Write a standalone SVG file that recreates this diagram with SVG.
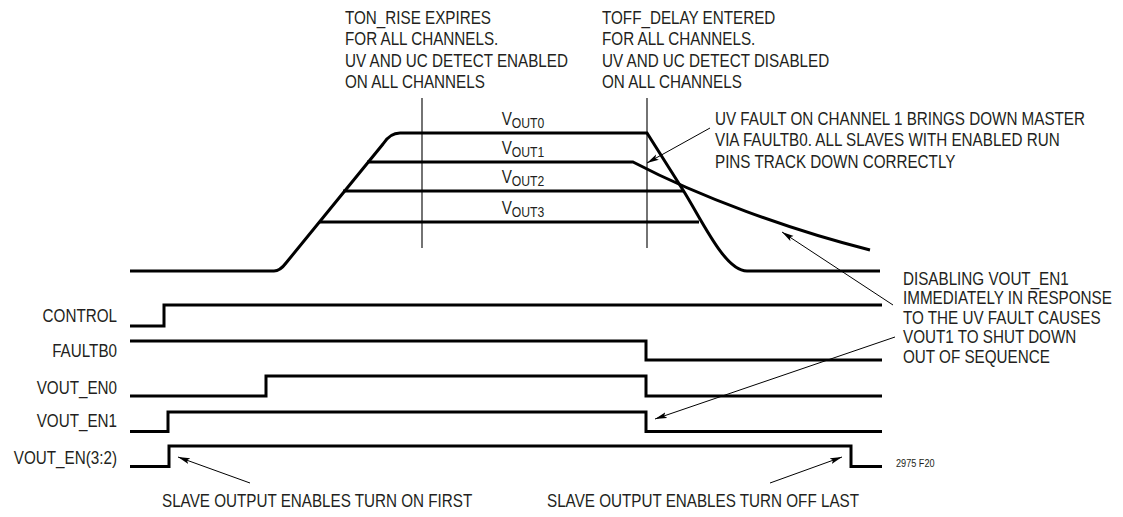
<svg xmlns="http://www.w3.org/2000/svg" width="1123" height="517" viewBox="0 0 1123 517">
<style>
  .w { fill: none; stroke: #000; stroke-width: 3; stroke-linejoin: miter; stroke-linecap: butt; }
  .thin { fill: none; stroke: #000; stroke-width: 1.1; }
  .arr { fill: none; stroke: #000; stroke-width: 1; marker-end: url(#ah); }
  text { font-family: "Liberation Sans", Arial, sans-serif; font-size: 17.5px; fill: #231f20; }
  .sm { font-size: 10.5px; }
  .sub { font-size: 14px; }
</style>
<defs>
  <marker id="ah" markerUnits="userSpaceOnUse" markerWidth="13" markerHeight="8" refX="12" refY="3.5" orient="auto">
    <path d="M0,0.5 L12,3.5 L0,6.5 L2.5,3.5 Z" fill="#000"/>
  </marker>
</defs>
<rect width="1123" height="517" fill="#fff"/>

<g id="markers-time">
  <line class="thin" x1="422" y1="98" x2="422" y2="248"/>
  <line class="thin" x1="647" y1="98" x2="647" y2="248"/>
</g>

<g id="vout-waveforms">
  <path id="vout0" class="w" d="M130,271 L274,271 Q280,271 286,263 L383,144 Q390,133 400,133 L647,133 L683,190 C703,222 725,271 747,271 L880,271"/>
  <path id="vout1" class="w" d="M367,162 L633,162 C700,197 790,230 870,250"/>
  <path id="vout2" class="w" d="M343,191 L684,191"/>
  <path id="vout3" class="w" d="M319,222 L699,222"/>
</g>

<g id="vout-labels">
  <g transform="translate(523,0) scale(0.87,1)">
    <text x="0" y="125" text-anchor="middle">V<tspan class="sub" dy="3.5">OUT0</tspan></text>
    <text x="0" y="154" text-anchor="middle">V<tspan class="sub" dy="3.5">OUT1</tspan></text>
    <text x="0" y="183" text-anchor="middle">V<tspan class="sub" dy="3.5">OUT2</tspan></text>
    <text x="0" y="214" text-anchor="middle">V<tspan class="sub" dy="3.5">OUT3</tspan></text>
  </g>
</g>

<g id="sig-control">
  <g transform="translate(117,0) scale(0.87,1)"><text x="0" y="322" text-anchor="end">CONTROL</text></g>
  <path class="w" d="M130,326 L164,326 L164,305 L882,305"/>
</g>
<g id="sig-faultb0">
  <g transform="translate(117,0) scale(0.87,1)"><text x="0" y="357" text-anchor="end">FAULTB0</text></g>
  <path class="w" d="M130,341 L646,341 L646,360 L882,360"/>
</g>
<g id="sig-vout-en0">
  <g transform="translate(117,0) scale(0.87,1)"><text x="0" y="394" text-anchor="end">VOUT_EN0</text></g>
  <path class="w" d="M130,396 L266,396 L266,376 L646,376 L646,396 L882,396"/>
</g>
<g id="sig-vout-en1">
  <g transform="translate(117,0) scale(0.87,1)"><text x="0" y="427" text-anchor="end">VOUT_EN1</text></g>
  <path class="w" d="M130,431.5 L168,431.5 L168,412 L646,412 L646,431.5 L882,431.5"/>
</g>
<g id="sig-vout-en32">
  <g transform="translate(117,0) scale(0.87,1)"><text x="0" y="464" text-anchor="end">VOUT_EN(3:2)</text></g>
  <path class="w" d="M130,466.5 L169,466.5 L169,446 L851,446 L851,466.5 L882,466.5"/>
</g>

<g id="note-ton-rise" transform="translate(345,0) scale(0.87,1)">
  <text x="0" y="24">TON_RISE EXPIRES</text>
  <text x="0" y="45.3">FOR ALL CHANNELS.</text>
  <text x="0" y="66.6">UV AND UC DETECT ENABLED</text>
  <text x="0" y="88">ON ALL CHANNELS</text>
</g>
<g id="note-toff-delay" transform="translate(602,0) scale(0.87,1)">
  <text x="0" y="24">TOFF_DELAY ENTERED</text>
  <text x="0" y="45.3">FOR ALL CHANNELS.</text>
  <text x="0" y="66.6">UV AND UC DETECT DISABLED</text>
  <text x="0" y="88">ON ALL CHANNELS</text>
</g>
<g id="note-uv-fault" transform="translate(715,0) scale(0.87,1)">
  <text x="0" y="125">UV FAULT ON CHANNEL 1 BRINGS DOWN MASTER</text>
  <text x="0" y="146.5">VIA FAULTB0. ALL SLAVES WITH ENABLED RUN</text>
  <text x="0" y="168">PINS TRACK DOWN CORRECTLY</text>
</g>
<g id="note-disabling" transform="translate(903,0) scale(0.87,1)">
  <text x="0" y="285">DISABLING VOUT_EN1</text>
  <text x="0" y="304.5">IMMEDIATELY IN RESPONSE</text>
  <text x="0" y="324">TO THE UV FAULT CAUSES</text>
  <text x="0" y="343.5">VOUT1 TO SHUT DOWN</text>
  <text x="0" y="363">OUT OF SEQUENCE</text>
</g>
<g id="note-on-first" transform="translate(162,0) scale(0.87,1)">
  <text x="0" y="507">SLAVE OUTPUT ENABLES TURN ON FIRST</text>
</g>
<g id="note-off-last" transform="translate(547,0) scale(0.87,1)">
  <text x="0" y="507">SLAVE OUTPUT ENABLES TURN OFF LAST</text>
</g>
<g id="fig-id" transform="translate(896,0) scale(0.87,1)">
  <text class="sm" x="0" y="467">2975 F20</text>
</g>

<g id="connectors">
  <line class="arr" x1="710" y1="128" x2="647" y2="163"/>
  <line class="arr" x1="893" y1="305" x2="782" y2="232"/>
  <line class="arr" x1="895" y1="337" x2="655" y2="419"/>
  <line class="arr" x1="250" y1="483" x2="178" y2="457"/>
  <line class="arr" x1="770" y1="483" x2="842" y2="457"/>
</g>
</svg>
